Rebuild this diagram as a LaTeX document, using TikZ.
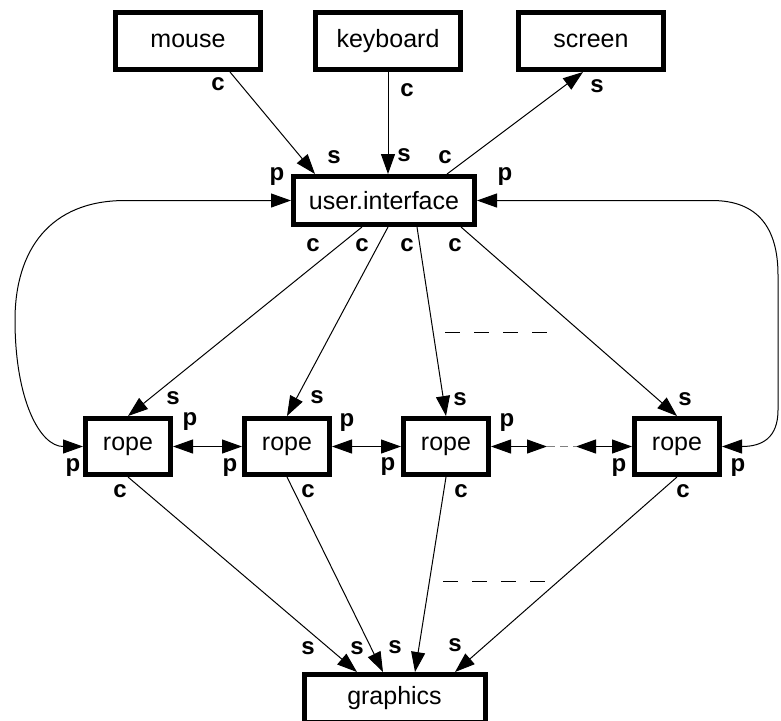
\documentclass[tikz,border=0pt]{standalone}
\usepackage{fontspec}
\setmainfont{Liberation Sans}
\usetikzlibrary{arrows.meta}

\begin{document}
\begin{tikzpicture}[x=0.5pt,y=-0.5pt,
  box/.style={draw,line width=2.5pt,inner sep=0pt,font=\fontsize{12.5}{15}\selectfont},
  devbox/.style={box,minimum width=72.5pt,minimum height=28.5pt},
  widebox/.style={box,minimum width=90.5pt,minimum height=24pt},
  ropebox/.style={box,minimum width=42.5pt,minimum height=28pt},
  link/.style={line width=0.5pt,-{Triangle[length=10pt,width=7pt]}},
  twoway/.style={line width=0.5pt,{Triangle[length=10pt,width=7pt]}-{Triangle[length=10pt,width=7pt]}},
  lab/.style={inner sep=0pt,font=\fontsize{12}{14}\selectfont\bfseries}]
  \useasboundingbox (0,0) rectangle (781,720);

  % The devices on top
  \node[devbox] (mouse) at (188,41) {mouse};
  \node[devbox] (keyboard) at (388,41) {keyboard};
  \node[devbox] (screen) at (591,41) {screen};

  % The interface and the ropes
  \node[widebox] (ui) at (384,200.5) {user.interface};
  \node[ropebox] (rope1) at (128,446.5) {rope};
  \node[ropebox] (rope2) at (287,446.5) {rope};
  \node[ropebox] (rope3) at (446,446.5) {rope};
  \node[ropebox] (rope4) at (677,446.5) {rope};
  \node[widebox] (graphics) at (394.5,698.5) {graphics};

  % Devices to the interface
  \draw[link] ([xshift=21pt]mouse.south) -- ([xshift=-34.5pt]ui.north);
  \draw[link] (keyboard.south) -- (keyboard.south |- ui.north);
  \draw[link] ([xshift=31.5pt]ui.north) -- ([xshift=-4pt]screen.south);

  % Interface to the ropes
  \draw[link] ([xshift=-11pt]ui.south) -- (rope1.north);
  \draw[link] ([xshift=2pt]ui.south) -- (rope2.north);
  \draw[link] ([xshift=16.5pt]ui.south) -- (rope3.north);
  \draw[link] ([xshift=38.5pt]ui.south) -- (rope4.north);
  \draw[line width=0.5pt,dash pattern=on 7.5pt off 7pt] (445,332) -- (547,332);

  % Ropes to the graphics
  \draw[link] (rope1.south) -- ([xshift=-18.75pt]graphics.north);
  \draw[link] (rope2.south) -- ([xshift=-5.75pt]graphics.north);
  \draw[link] (rope3.south) -- ([xshift=10.25pt]graphics.north);
  \draw[link] (rope4.south) -- ([xshift=30.25pt]graphics.north);
  \draw[line width=0.5pt,dash pattern=on 7.5pt off 7pt] (443,581) -- (547,581);

  % Ropes side by side
  \coordinate (gapL) at (547,446.5);
  \coordinate (gapR) at (576,446.5);
  \draw[twoway] (rope1.east) -- (rope2.west);
  \draw[twoway] (rope2.east) -- (rope3.west);
  \draw[twoway] (rope3.east) -- (gapL);
  \draw[gray,line width=0.5pt,dash pattern=on 4pt off 2.5pt] (gapL) -- (gapR);
  \draw[twoway] (gapR) -- (rope4.west);

  % The two loops back to the interface
  \draw[twoway] (ui.west) -- (125,200.5) .. controls (50,200.5) and (15,250) .. (15,320)
    .. controls (15,400) and (40,446.5) .. (rope1.west);
  \draw[twoway] (ui.east) -- (712,200.5) .. controls (758,200.5) and (778,228) .. (778,275)
    -- (778,410) .. controls (778,438) and (762,446.5) .. (rope4.east);

  % Port labels
  \node[lab] (cMouse) at (218,84) {c};
  \node[lab] (cKeyboard) at (407,90) {c};
  \node[lab] (sScreen) at (597,86) {s};
  \node[lab] (sUiMouse) at (334,157) {s};
  \node[lab] (sUiKeyboard) at (404,155) {s};
  \node[lab] (cUiScreen) at (445,157) {c};
  \node[lab] (pUiLeft) at (277,177) {p};
  \node[lab] (pUiRight) at (505,177) {p};
  \node[lab] (cUiA) at (313,245) {c};
  \node[lab] (cUiB) at (362,245) {c};
  \node[lab] (cUiC) at (407,245) {c};
  \node[lab] (cUiD) at (455,245) {c};
  \node[lab] (sRopeA) at (173,398) {s};
  \node[lab] (sRopeB) at (317,397) {s};
  \node[lab] (sRopeC) at (460,399) {s};
  \node[lab] (sRopeD) at (685,399) {s};
  \node[lab] (pRopeAl) at (73,467) {p};
  \node[lab] (pRopeAr) at (190,421) {p};
  \node[lab] (pRopeBl) at (230,467) {p};
  \node[lab] (pRopeBr) at (347,422) {p};
  \node[lab] (pRopeCl) at (388,466) {p};
  \node[lab] (pRopeCr) at (507,422) {p};
  \node[lab] (pRopeDl) at (619,467) {p};
  \node[lab] (pRopeDr) at (738,467) {p};
  \node[lab] (cRopeA) at (120,491) {c};
  \node[lab] (cRopeB) at (308,491) {c};
  \node[lab] (cRopeC) at (461,491) {c};
  \node[lab] (cRopeD) at (683,491) {c};
  \node[lab] (sGraphA) at (308,648) {s};
  \node[lab] (sGraphB) at (357,648) {s};
  \node[lab] (sGraphC) at (395,647) {s};
  \node[lab] (sGraphD) at (455,645) {s};
\end{tikzpicture}
\end{document}
